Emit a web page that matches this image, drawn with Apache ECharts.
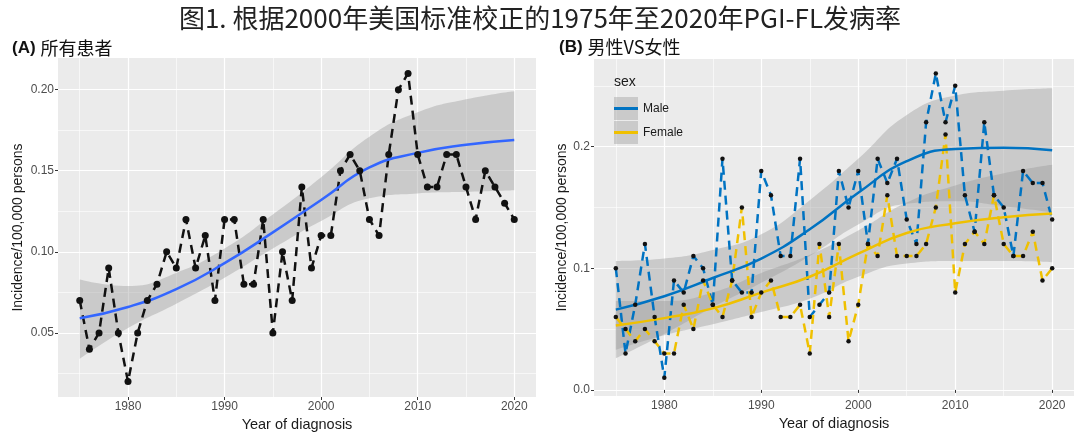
<!DOCTYPE html>
<html><head><meta charset="utf-8">
<script src="https://cdn.jsdelivr.net/npm/echarts@6/dist/echarts.min.js"></script>
<style>html,body{margin:0;padding:0;background:#fff;}#c{width:1080px;height:432px;}</style>
</head><body><div id="c"></div>
<script>
// ---------- data ----------
const years = [1975,1976,1977,1978,1979,1980,1981,1982,1983,1984,1985,1986,1987,1988,1989,1990,1991,1992,1993,1994,1995,1996,1997,1998,1999,2000,2001,2002,2003,2004,2005,2006,2007,2008,2009,2010,2011,2012,2013,2014,2015,2016,2017,2018,2019,2020];
const allPatients = [0.07,0.04,0.05,0.09,0.05,0.02,0.05,0.07,0.08,0.10,0.09,0.12,0.09,0.11,0.07,0.12,0.12,0.08,0.08,0.12,0.05,0.10,0.07,0.14,0.09,0.11,0.11,0.15,0.16,0.15,0.12,0.11,0.16,0.20,0.21,0.16,0.14,0.14,0.16,0.16,0.14,0.12,0.15,0.14,0.13,0.12];
const maleRates = [0.10,0.03,0.07,0.12,0.06,0.01,0.09,0.08,0.11,0.10,0.07,0.19,0.09,0.08,0.08,0.18,0.16,0.11,0.11,0.19,0.06,0.07,0.08,0.18,0.15,0.18,0.12,0.19,0.17,0.19,0.14,0.12,0.22,0.26,0.22,0.25,0.16,0.13,0.22,0.16,0.15,0.11,0.18,0.17,0.17,0.14];
const femaleRates = [0.06,0.05,0.04,0.05,0.04,0.03,0.03,0.07,0.05,0.09,0.07,0.06,0.09,0.15,0.06,0.08,0.09,0.06,0.06,0.07,0.03,0.12,0.06,0.12,0.04,0.07,0.12,0.11,0.16,0.11,0.11,0.11,0.12,0.15,0.21,0.08,0.12,0.13,0.12,0.16,0.12,0.11,0.11,0.13,0.09,0.10];

const fitYears = [1975,1980,1985,1990,1995,2000,2005,2010,2015,2020];
const fitAll     = [0.059,0.066,0.077,0.093,0.112,0.132,0.152,0.161,0.166,0.169];
const fitAllLow  = [0.034,0.053,0.068,0.084,0.102,0.119,0.133,0.136,0.137,0.138];
const fitAllHigh = [0.083,0.079,0.087,0.102,0.123,0.146,0.171,0.186,0.194,0.199];
const fitMale     = [0.066,0.077,0.092,0.108,0.132,0.162,0.188,0.198,0.199,0.197];
const fitMaleLow  = [0.026,0.046,0.068,0.088,0.110,0.136,0.153,0.155,0.151,0.146];
const fitMaleHigh = [0.106,0.108,0.115,0.128,0.156,0.190,0.226,0.242,0.246,0.248];
const fitFemale     = [0.053,0.059,0.067,0.080,0.093,0.112,0.129,0.137,0.142,0.145];
const fitFemaleLow  = [0.033,0.045,0.054,0.064,0.075,0.093,0.104,0.106,0.106,0.105];
const fitFemaleHigh = [0.073,0.073,0.080,0.096,0.111,0.131,0.154,0.168,0.178,0.185];

const xTickLabels = [1980,1990,2000,2010,2020];
const yTicksA = [0.05,0.10,0.15,0.20];
const yTicksB = [0.0,0.1,0.2];

// ---------- styling / build ----------
const SANS = "'Liberation Sans', Arial, sans-serif";
const CJK = "'Noto Sans CJK SC', sans-serif";
const pairs = (xs, ys) => xs.map((x, i) => [x, ys[i]]);
// value first, year second (encode maps them), so that stacking applies to the value dimension
const vFirst = (xs, ys) => xs.map((x, i) => [ys[i], x]);
const vFirstDiff = (xs, lo, hi) => xs.map((x, i) => [+(hi[i] - lo[i]).toFixed(4), x]);

function xAxisFor(gi) {
  return {
    gridIndex: gi, type: 'value', min: 1972.75, max: 2022.25, splitNumber: 5,
    axisLine: {show: false},
    axisTick: {show: true, length: 3, lineStyle: {color: '#333', width: 1}, customValues: xTickLabels},
    axisLabel: {customValues: xTickLabels, color: '#4d4d4d', fontSize: 12, margin: 4, fontFamily: SANS,
      formatter: v => String(Math.round(v))},
    splitLine: {show: true, lineStyle: {color: '#fff', width: 1.2}},
    minorTick: {show: false, splitNumber: 2},
    minorSplitLine: {show: true, lineStyle: {color: '#fff', width: 0.6}},
    name: 'Year of diagnosis', nameLocation: 'middle', nameGap: 18,
    nameTextStyle: {fontSize: 14.5, color: '#1a1a1a', fontFamily: SANS}
  };
}
function yAxisFor(gi, min, max, split, ticks, dec, gap) {
  return {
    gridIndex: gi, type: 'value', min: min, max: max, splitNumber: split,
    axisLine: {show: false},
    axisTick: {show: true, length: 3, lineStyle: {color: '#333', width: 1}, customValues: ticks},
    axisLabel: {customValues: ticks, color: '#4d4d4d', fontSize: 12, margin: 4, fontFamily: SANS,
      formatter: v => Number(v).toFixed(dec)},
    splitLine: {show: true, lineStyle: {color: '#fff', width: 1.2}},
    minorTick: {show: false, splitNumber: 2},
    minorSplitLine: {show: true, lineStyle: {color: '#fff', width: 0.6}},
    name: 'Incidence/100,000 persons', nameLocation: 'middle', nameRotate: 90, nameGap: gap,
    nameTextStyle: {fontSize: 14, color: '#1a1a1a', fontFamily: SANS}
  };
}
function bandSeries(gi, lo, hi, key) {
  return [
    {type: 'line', name: key + ' lo', xAxisIndex: gi, yAxisIndex: gi, stack: key, smooth: true,
     encode: {x: 1, y: 0}, data: vFirst(fitYears, lo), showSymbol: false, symbol: 'none',
     lineStyle: {opacity: 0}, silent: true},
    {type: 'line', name: key + ' band', xAxisIndex: gi, yAxisIndex: gi, stack: key, smooth: true,
     encode: {x: 1, y: 0}, data: vFirstDiff(fitYears, lo, hi), showSymbol: false, symbol: 'none',
     lineStyle: {opacity: 0}, silent: true,
     areaStyle: {color: 'rgba(153,153,153,0.4)', opacity: 1}}
  ];
}

const series = [
  // Panel A observed
  {type: 'line', name: 'All', xAxisIndex: 0, yAxisIndex: 0, data: pairs(years, allPatients),
   symbol: 'circle', symbolSize: 7, showAllSymbol: true, itemStyle: {color: '#111'},
   lineStyle: {color: '#111', width: 2.5, type: [9, 6]}},
  // Panel B observed
  {type: 'line', name: 'Male obs', xAxisIndex: 1, yAxisIndex: 1, data: pairs(years, maleRates),
   symbol: 'circle', symbolSize: 4.5, showAllSymbol: true, itemStyle: {color: '#111'},
   lineStyle: {color: '#0073C2', width: 2.5, type: [9, 6]}},
  {type: 'line', name: 'Female obs', xAxisIndex: 1, yAxisIndex: 1, data: pairs(years, femaleRates),
   symbol: 'circle', symbolSize: 4.5, showAllSymbol: true, itemStyle: {color: '#111'},
   lineStyle: {color: '#EFC000', width: 2.5, type: [9, 6]}},
  ...bandSeries(0, fitAllLow, fitAllHigh, 'bandA'),
  ...bandSeries(1, fitMaleLow, fitMaleHigh, 'bandM'),
  ...bandSeries(1, fitFemaleLow, fitFemaleHigh, 'bandF'),
  {type: 'line', name: 'Fit all', xAxisIndex: 0, yAxisIndex: 0, smooth: true, data: pairs(fitYears, fitAll),
   showSymbol: false, symbol: 'none', lineStyle: {color: '#3366FF', width: 2.5}, itemStyle: {color: '#3366FF'}},
  {type: 'line', name: 'Male', xAxisIndex: 1, yAxisIndex: 1, smooth: true, data: pairs(fitYears, fitMale),
   showSymbol: false, symbol: 'none', lineStyle: {color: '#0073C2', width: 2.5}, itemStyle: {color: '#0073C2'}},
  {type: 'line', name: 'Female', xAxisIndex: 1, yAxisIndex: 1, smooth: true, data: pairs(fitYears, fitFemale),
   showSymbol: false, symbol: 'none', lineStyle: {color: '#EFC000', width: 2.5}, itemStyle: {color: '#EFC000'}}
];

const chart = echarts.init(document.getElementById('c'), null, {renderer: 'canvas'});
chart.setOption({
  animation: false,
  backgroundColor: '#fff',
  title: [
    {text: '图1. 根据2000年美国标准校正的1975年至2020年PGI-FL发病率', left: 'center', top: 0,
     textStyle: {fontSize: 26, fontWeight: 'normal', color: '#222', fontFamily: CJK}},
    {text: '{b|(A)} {c|所有患者}', left: 7, top: 34,
     textStyle: {rich: {b: {fontSize: 17, fontWeight: 'bold', color: '#111', fontFamily: SANS},
                        c: {fontSize: 18, fontWeight: 'normal', color: '#111', fontFamily: CJK}}}},
    {text: '{b|(B)} {c|男性VS女性}', left: 554, top: 33,
     textStyle: {rich: {b: {fontSize: 17, fontWeight: 'bold', color: '#111', fontFamily: SANS},
                        c: {fontSize: 18, fontWeight: 'normal', color: '#111', fontFamily: CJK}}}}
  ],
  grid: [
    {left: 58, top: 58, width: 478, height: 339, show: true, backgroundColor: '#EBEBEB', borderWidth: 0,
     outerBoundsMode: 'none', containLabel: false},
    {left: 594, top: 59, width: 480, height: 337, show: true, backgroundColor: '#EBEBEB', borderWidth: 0,
     outerBoundsMode: 'none', containLabel: false}
  ],
  xAxis: [xAxisFor(0), xAxisFor(1)],
  yAxis: [yAxisFor(0, 0.0105, 0.2195, 5, yTicksA, 2, 33), yAxisFor(1, -0.005, 0.272, 3, yTicksB, 1, 24)],
  legend: {
    data: ['Male', 'Female'], orient: 'vertical', left: 614, top: 97, padding: 0, icon: 'rect',
    itemWidth: 24, itemHeight: 3, itemGap: 1, itemTextGap: 7, selectedMode: false,
    textStyle: {fontSize: 12, color: '#1a1a1a', fontFamily: SANS, lineHeight: 23, height: 23}
  },
  graphic: [
    {type: 'text', left: 614, top: 75, z: 5, style: {text: 'sex', fontSize: 14, fill: '#1a1a1a', fontFamily: SANS}},
    {type: 'rect', left: 614, top: 97, z: 3, shape: {width: 24, height: 23}, style: {fill: 'rgba(153,153,153,0.4)'}},
    {type: 'rect', left: 614, top: 121, z: 3, shape: {width: 24, height: 23}, style: {fill: 'rgba(153,153,153,0.4)'}}
  ],
  series: series
});
</script></body></html>
